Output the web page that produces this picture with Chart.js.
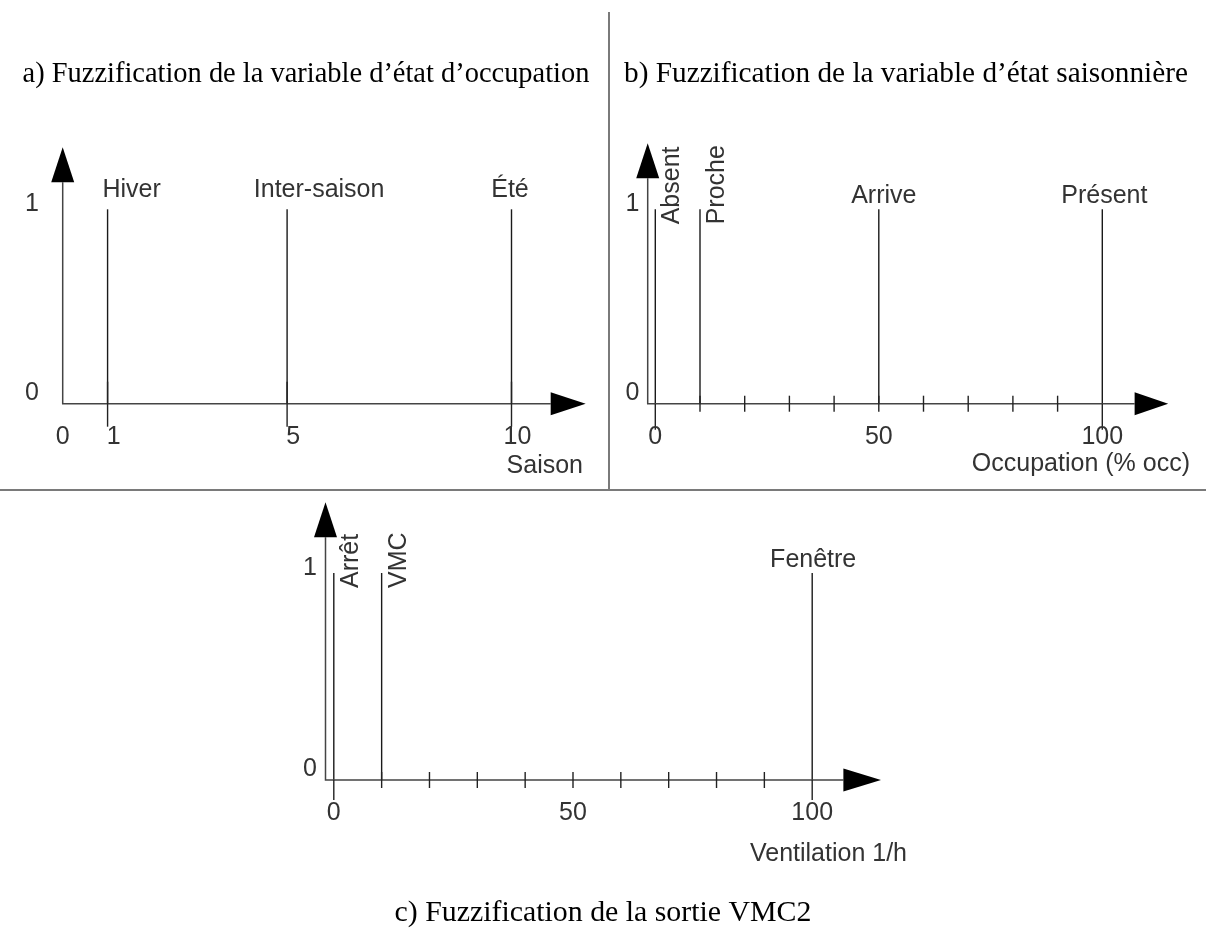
<!DOCTYPE html>
<html>
<head>
<meta charset="utf-8">
<script src="https://cdn.jsdelivr.net/npm/chart.js@4.4.1/dist/chart.umd.min.js"></script>
<style>
  html, body { margin: 0; padding: 0; background: #fff; }
  #wrap { position: relative; width: 1206px; height: 947px; overflow: hidden; }
  #wrap canvas { position: absolute; left: 0; top: 0; }
  .rule { position: absolute; background: #7a7a7a; }
</style>
</head>
<body>
<div id="wrap">
  <div class="rule" style="left:608px; top:12px; width:2px; height:479px"></div>
  <div class="rule" style="left:0; top:489px; width:1206px; height:2px"></div>
  <canvas id="chartA" width="1206" height="947"></canvas>
  <canvas id="chartB" width="1206" height="947"></canvas>
  <canvas id="chartC" width="1206" height="947"></canvas>
</div>
<script>
// --- DATA ---
const membership = [0, 1];

const titleA = "a) Fuzzification de la variable d’état d’occupation";
const seasonNames = ["Hiver", "Inter-saison", "Été"];
const seasonValues = [1, 5, 10];
const seasonTickLabels = [0, 1, 5, 10];
const seasonAxisTitle = "Saison";

const titleB = "b) Fuzzification de la variable d’état saisonnière";
const occupNames = ["Absent", "Proche", "Arrive", "Présent"];
const occupValues = [0, 10, 50, 100];
const occupTickLabels = [0, 50, 100];
const occupMinorTicks = [10, 20, 30, 40, 50, 60, 70, 80, 90];
const occupAxisTitle = "Occupation (% occ)";

const titleC = "c) Fuzzification de la sortie VMC2";
const ventNames = ["Arrêt", "VMC", "Fenêtre"];
const ventValues = [0, 10, 100];
const ventTickLabels = [0, 50, 100];
const ventMinorTicks = [10, 20, 30, 40, 50, 60, 70, 80, 90];
const ventAxisTitle = "Ventilation 1/h";

// --- LAYOUT ---
const W = 1206, H = 947;
const SANS = '25px "Liberation Sans", Arial, sans-serif';
const TEXT = '#333';
const AXIS = '#444';

const panels = [
  {
    id: 'chartA', names: seasonNames, values: seasonValues, tickLabels: seasonTickLabels,
    minorTicks: [], longTicks: seasonValues, longUp: 22, longDown: 23,
    axisTitle: seasonAxisTitle, title: titleA,
    area: { left: 62.7, right: 511.5, top: 209.3, bottom: 403.7 }, xMin: 0, xMax: 10,
    axisGap: 0, yArrowTip: 147.3, xArrowBase: 550.7, xArrowTip: 585.7,
    yLabelRight: 39, tickShift: 6, rotated: [],
    labelNudge: [24, 32, -1.5], labelLift: 12.6,
    axisTitleRight: 583, axisTitleDrop: 69,
    titleCenter: 306, titleBaseline: 82, titleWidth: 567
  },
  {
    id: 'chartB', names: occupNames, values: occupValues, tickLabels: occupTickLabels,
    minorTicks: occupMinorTicks, longTicks: [0, 100], longUp: 0, longDown: 26,
    axisTitle: occupAxisTitle, title: titleB,
    area: { left: 655.3, right: 1102.3, top: 209.3, bottom: 403.7 }, xMin: 0, xMax: 100,
    axisGap: 7.6, yArrowTip: 143.3, xArrowBase: 1134.6, xArrowTip: 1168.2,
    yLabelRight: 639.5, tickShift: 0, rotated: [0, 1],
    labelNudge: [0, 0, 5, 2], labelLift: 6,
    axisTitleRight: 1190, axisTitleDrop: 67,
    titleCenter: 906, titleBaseline: 82, titleWidth: 564
  },
  {
    id: 'chartC', names: ventNames, values: ventValues, tickLabels: ventTickLabels,
    minorTicks: ventMinorTicks, longTicks: [0, 100], longUp: 0, longDown: 20,
    axisTitle: ventAxisTitle, title: titleC,
    area: { left: 333.8, right: 812.2, top: 573, bottom: 780 }, xMin: 0, xMax: 100,
    axisGap: 8.3, yArrowTip: 502.3, xArrowBase: 843.4, xArrowTip: 881,
    yLabelRight: 317, tickShift: 0, rotated: [0, 1],
    labelNudge: [0, 0, 1], labelLift: 6.3,
    axisTitleRight: 907, axisTitleDrop: 81,
    titleCenter: 603, titleBaseline: 921, titleWidth: 417
  }
];

// --- DRAWING PLUGIN ---
function axisPlugin(p) {
  return {
    id: 'axes_' + p.id,
    afterDatasetsDraw(chart) {
      const ctx = chart.ctx, xs = chart.scales.x, ys = chart.scales.y;
      const y0 = ys.getPixelForValue(membership[0]);
      const y1 = ys.getPixelForValue(membership[1]);
      const ax = xs.getPixelForValue(p.xMin) - p.axisGap;
      const arrowH = 35, half = 11.5;
      ctx.save();

      // axes lines
      ctx.strokeStyle = AXIS;
      ctx.lineWidth = 1.5;
      ctx.beginPath();
      ctx.moveTo(ax, p.yArrowTip + arrowH);
      ctx.lineTo(ax, y0);
      ctx.lineTo(p.xArrowBase, y0);
      ctx.stroke();

      // arrow heads
      ctx.fillStyle = '#000';
      ctx.beginPath();
      ctx.moveTo(ax, p.yArrowTip);
      ctx.lineTo(ax - half, p.yArrowTip + arrowH);
      ctx.lineTo(ax + half, p.yArrowTip + arrowH);
      ctx.closePath();
      ctx.fill();
      ctx.beginPath();
      ctx.moveTo(p.xArrowTip, y0);
      ctx.lineTo(p.xArrowBase, y0 - half);
      ctx.lineTo(p.xArrowBase, y0 + half);
      ctx.closePath();
      ctx.fill();

      // ticks
      ctx.strokeStyle = '#222';
      ctx.lineWidth = 1.4;
      p.minorTicks.forEach(v => {
        const x = xs.getPixelForValue(v);
        ctx.beginPath(); ctx.moveTo(x, y0 - 8); ctx.lineTo(x, y0 + 8); ctx.stroke();
      });
      p.longTicks.forEach(v => {
        const x = xs.getPixelForValue(v);
        ctx.beginPath(); ctx.moveTo(x, y0 - p.longUp); ctx.lineTo(x, y0 + p.longDown); ctx.stroke();
      });

      // tick labels
      ctx.font = SANS;
      ctx.fillStyle = TEXT;
      ctx.textAlign = 'center';
      ctx.textBaseline = 'alphabetic';
      p.tickLabels.forEach(v => {
        const x = xs.getPixelForValue(v) + (v === p.xMin ? 0 : p.tickShift);
        ctx.fillText(String(v), x, y0 + 40);
      });

      // y labels
      ctx.textAlign = 'right';
      ctx.fillText(String(membership[1]), p.yLabelRight, y1 + 2);
      ctx.fillText(String(membership[0]), p.yLabelRight, y0 - 4);

      // category labels
      p.names.forEach((name, i) => {
        const x = xs.getPixelForValue(p.values[i]);
        if (p.rotated.includes(i)) {
          ctx.save();
          ctx.translate(x + 24, y1 + 15);
          ctx.rotate(-Math.PI / 2);
          ctx.textAlign = 'left';
          ctx.fillText(name, 0, 0);
          ctx.restore();
        } else {
          ctx.textAlign = 'center';
          ctx.fillText(name, x + p.labelNudge[i], y1 - p.labelLift);
        }
      });

      // axis title
      ctx.textAlign = 'right';
      ctx.fillText(p.axisTitle, p.axisTitleRight, y0 + p.axisTitleDrop);

      // panel title, serif, fitted to its width
      ctx.font = '100px "Liberation Serif", "Times New Roman", serif';
      const size = 100 * p.titleWidth / ctx.measureText(p.title).width;
      ctx.font = size.toFixed(2) + 'px "Liberation Serif", "Times New Roman", serif';
      ctx.fillStyle = '#000';
      ctx.textAlign = 'center';
      ctx.fillText(p.title, p.titleCenter, p.titleBaseline);

      ctx.restore();
    }
  };
}

function makePanel(p) {
  const datasets = p.names.map((name, i) => ({
    label: name,
    data: [{ x: p.values[i], y: membership[0] }, { x: p.values[i], y: membership[1] }],
    borderColor: '#1a1a1a',
    borderWidth: 1.4,
    pointRadius: 0,
    clip: false
  }));
  return new Chart(document.getElementById(p.id), {
    type: 'line',
    data: { datasets },
    options: {
      responsive: false,
      animation: false,
      devicePixelRatio: 1,
      layout: {
        padding: { left: p.area.left, top: p.area.top, right: W - p.area.right, bottom: H - p.area.bottom }
      },
      scales: {
        x: { type: 'linear', min: p.xMin, max: p.xMax, display: false },
        y: { type: 'linear', min: membership[0], max: membership[1], display: false }
      },
      plugins: { legend: { display: false }, tooltip: { enabled: false } },
      events: []
    },
    plugins: [axisPlugin(p)]
  });
}

panels.forEach(makePanel);
</script>
</body>
</html>
